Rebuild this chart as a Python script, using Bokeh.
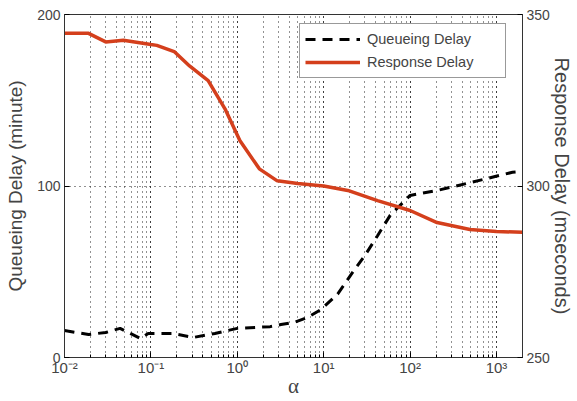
from bokeh.plotting import figure
from bokeh.models import Range1d, LinearAxis, FixedTicker, CustomJSTickFormatter, Legend, LegendItem, LogTicker
from bokeh.embed import file_html
from bokeh.resources import INLINE

# Data
resp_alpha = [0.01, 0.019, 0.03, 0.048, 0.1, 0.117, 0.186, 0.28, 0.46, 0.72, 1.07, 1.8, 2.9, 5, 10, 19, 42, 100, 205, 493, 1000, 2000]
resp_ms = [344.5, 344.5, 342.0, 342.5, 341.25, 341.0, 339.2, 335.0, 330.75, 322.5, 313.25, 305.0, 301.5, 300.75, 300.0, 298.7, 295.75, 292.85, 289.35, 287.3, 286.75, 286.5]

queue_alpha = [0.01, 0.019, 0.03, 0.044, 0.076, 0.093, 0.18, 0.31, 0.55, 1, 2.4, 3.2, 4.5, 6.5, 9.3, 14.5, 21.6, 30, 42, 59, 100, 210, 455, 1530, 2000]
queue_min = [15.7, 13.4, 14.6, 17.0, 11.0, 14.0, 14.0, 11.7, 14.0, 17.0, 18.0, 19.2, 20.4, 23.3, 28.0, 37.0, 49.6, 59.5, 71.0, 83.0, 94.5, 97.5, 101.5, 108.0, 108.5]

left_ticks = [0, 100, 200]
right_ticks = [250, 300, 350]

FONT = "Liberation Sans"
RED = "#D43F1C"

p = figure(width=577, height=401, x_axis_type="log", output_backend="svg", toolbar_location=None,
           x_range=Range1d(0.01, 2000), y_range=Range1d(0, 200),
           min_border_left=64, min_border_right=55, min_border_top=14, min_border_bottom=44)
p.extra_y_ranges = {"right": Range1d(250, 350)}

p.background_fill_color = "white"
p.border_fill_color = "white"
p.outline_line_color = "#333333"
p.outline_line_width = 1

# Grid
p.xgrid.grid_line_color = "#222222"
p.xgrid.grid_line_dash = "1 4"
p.xgrid.grid_line_width = 1
p.xgrid.minor_grid_line_color = "#222222"
p.xgrid.minor_grid_line_dash = "1 4"
p.xgrid.minor_grid_line_width = 1
p.ygrid.grid_line_color = "#222222"
p.ygrid.grid_line_dash = "1 4"
p.ygrid.ticker = FixedTicker(ticks=[100])

# X axis
xa = p.xaxis[0]
xa.ticker = LogTicker(num_minor_ticks=10)
xa.formatter = CustomJSTickFormatter(code="""
const e = Math.round(Math.log10(tick));
const sup = {'-':'\u207b','0':'\u2070','1':'\u00b9','2':'\u00b2','3':'\u00b3','4':'\u2074','5':'\u2075','6':'\u2076','7':'\u2077','8':'\u2078','9':'\u2079'};
return '10' + String(e).split('').map(c => sup[c]).join('');
""")
xa.axis_label = "α"
xa.axis_label_text_font = "Liberation Serif"
xa.axis_label_text_font_style = "normal"
xa.axis_label_text_font_size = "21px"
xa.axis_label_standoff = -5
xa.major_label_text_font = FONT
xa.major_label_text_font_size = "15px"
xa.major_label_standoff = 1
xa.major_tick_in = 5
xa.major_tick_out = 0
xa.minor_tick_in = 3
xa.minor_tick_out = 0
xa.axis_line_color = "#333333"

# Left axis
ya = p.yaxis[0]
ya.ticker = FixedTicker(ticks=left_ticks)
ya.axis_label = "Queueing Delay (minute)"
ya.axis_label_text_font = FONT
ya.axis_label_text_font_style = "normal"
ya.axis_label_text_font_size = "19px"
ya.axis_label_standoff = 8
ya.major_label_text_font = FONT
ya.major_label_text_font_size = "14px"
ya.major_label_standoff = 4
ya.major_tick_in = 5
ya.major_tick_out = 0
ya.minor_tick_in = 0
ya.minor_tick_out = 0
ya.axis_line_color = "#333333"

# Right axis
ra = LinearAxis(y_range_name="right", ticker=FixedTicker(ticks=right_ticks))
ra.axis_label = "Response Delay (mseconds)"
ra.axis_label_text_font = FONT
ra.axis_label_text_font_style = "normal"
ra.axis_label_text_font_size = "20px"
ra.axis_label_standoff = -2
ra.major_label_text_font = FONT
ra.major_label_text_font_size = "14px"
ra.major_label_standoff = 4
ra.major_tick_in = 5
ra.major_tick_out = 0
ra.minor_tick_in = 0
ra.minor_tick_out = 0
ra.axis_line_color = "#333333"
p.add_layout(ra, "right")

# Lines
q = p.line(queue_alpha, queue_min, line_color="black", line_width=3, line_dash="10 7")
r = p.line(resp_alpha, resp_ms, y_range_name="right", line_color=RED, line_width=3.5)

legend = Legend(items=[LegendItem(label="Queueing Delay", renderers=[q]),
                       LegendItem(label="Response Delay", renderers=[r])],
                location=(235, 279))
legend.label_text_font = FONT
legend.label_text_font_size = "14.5px"
legend.glyph_width = 55
legend.glyph_height = 20
legend.label_height = 20
legend.spacing = 3
legend.padding = 5
legend.margin = 0
legend.label_standoff = 7
legend.label_width = 133
legend.border_line_color = "#333333"
legend.border_line_width = 1
legend.background_fill_alpha = 1
p.add_layout(legend, "center")

open("out.html", "w").write(file_html(p, INLINE))
